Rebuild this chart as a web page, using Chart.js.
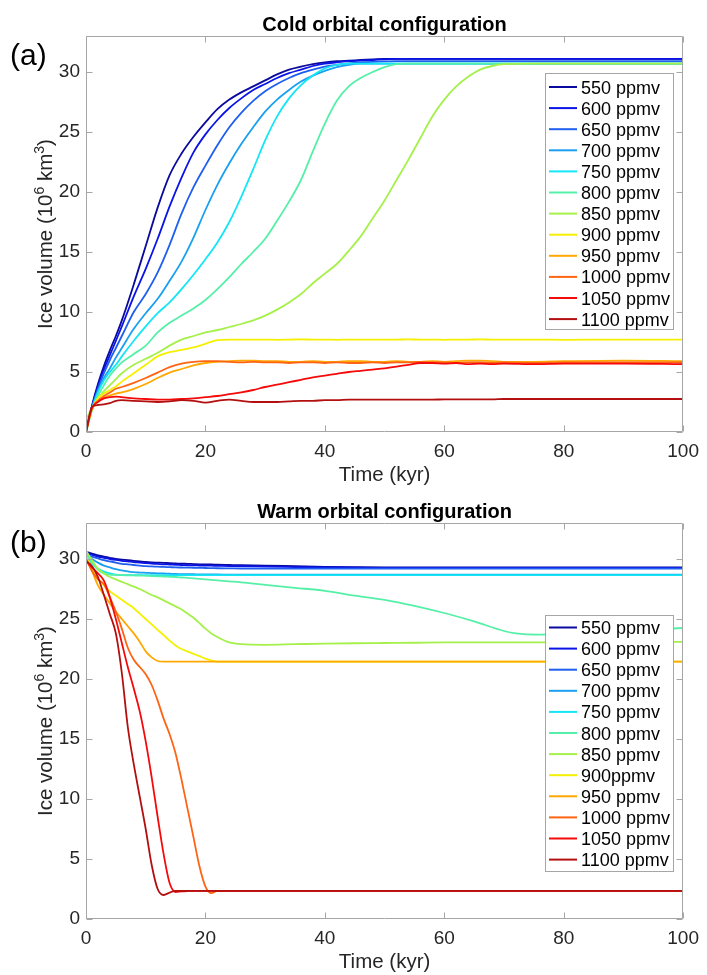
<!DOCTYPE html>
<html>
<head>
<meta charset="utf-8">
<script src="https://cdn.jsdelivr.net/npm/chart.js@4.4.1/dist/chart.umd.min.js"></script>
<style>
  html, body { margin: 0; padding: 0; background: #fff; }
  canvas { display: block; }
</style>
</head>
<body>
<canvas id="coldChart" width="707" height="487"></canvas>
<canvas id="warmChart" width="707" height="488"></canvas>
<script>
const FONT = "'Liberation Sans', Arial, Helvetica, sans-serif";

const xTicks = [0, 20, 40, 60, 80, 100];
const yTicks = [0, 5, 10, 15, 20, 25, 30];

const lineColors = ['#0a0a9e', '#0a14e6', '#1f5ff0', '#1aa0f0', '#14e6f5', '#55f0a8',
                    '#a5f04b', '#f5f000', '#ffa800', '#ff6414', '#f50a0a', '#b30f0f'];

const labelsCold = ['550 ppmv', '600 ppmv', '650 ppmv', '700 ppmv', '750 ppmv', '800 ppmv',
                    '850 ppmv', '900 ppmv', '950 ppmv', '1000 ppmv', '1050 ppmv', '1100 ppmv'];
const labelsWarm = ['550 ppmv', '600 ppmv', '650 ppmv', '700 ppmv', '750 ppmv', '800 ppmv',
                    '850 ppmv', '900ppmv', '950 ppmv', '1000 ppmv', '1050 ppmv', '1100 ppmv'];

// (a) cold orbital configuration
const timeCold = [0,1,2,3,4,5,6,8,10,12,14,16,18,20,22,24,26,28,30,32,34,36,38,40,42,44,46,48,50,52,54,56,58,60,62,64,66,68,70,75,80,90,100];
const cold550 = [0,2.2,4.0,5.5,6.8,8.0,9.3,12.3,15.5,18.7,21.4,23.2,24.6,25.8,26.9,27.7,28.3,28.8,29.3,29.8,30.2,30.45,30.65,30.8,30.9,30.95,31.0,31.05,31.1,31.1,31.1,31.1,31.1,31.1,31.1,31.1,31.1,31.1,31.1,31.1,31.1,31.1,31.1];
const cold600 = [0,2.1,3.8,5.2,6.4,7.6,8.8,11.3,13.6,16.1,18.8,21.2,23.3,24.8,26.0,27.0,27.8,28.5,29.0,29.5,29.9,30.2,30.5,30.7,30.8,30.9,30.95,31.0,31.05,31.1,31.1,31.1,31.1,31.1,31.1,31.1,31.1,31.1,31.1,31.1,31.1,31.1,31.1];
const cold650 = [0,2.0,3.6,4.9,6.0,7.0,8.0,10.0,11.5,13.3,15.6,18.2,20.4,22.2,23.9,25.4,26.6,27.6,28.4,29.0,29.5,29.9,30.2,30.45,30.6,30.72,30.8,30.85,30.88,30.9,30.9,30.9,30.9,30.9,30.9,30.9,30.9,30.9,30.9,30.9,30.9,30.9,30.9];
const cold700 = [0,2.0,3.4,4.5,5.3,6.2,7.0,8.6,9.9,11.1,12.6,14.2,16.2,18.5,20.6,22.4,24.0,25.4,26.7,27.7,28.5,29.2,29.7,30.1,30.4,30.6,30.7,30.7,30.7,30.7,30.7,30.7,30.7,30.7,30.7,30.7,30.7,30.7,30.7,30.7,30.7,30.7,30.7];
const cold750 = [0,1.9,3.3,4.3,5.0,5.6,6.3,7.6,8.8,9.9,10.8,11.9,13.1,14.4,15.8,17.5,19.6,21.9,24.3,26.3,27.8,28.9,29.7,30.3,30.6,30.7,30.7,30.7,30.7,30.7,30.7,30.7,30.7,30.7,30.7,30.7,30.7,30.7,30.7,30.7,30.7,30.7,30.7];
const cold800 = [0,1.8,3.0,3.9,4.7,5.3,5.8,6.5,7.2,8.3,9.1,9.7,10.3,11.0,11.9,12.9,14.0,15.0,16.1,17.6,19.2,21.0,23.4,25.7,27.6,28.8,29.5,30.0,30.4,30.65,30.7,30.7,30.7,30.7,30.7,30.7,30.7,30.7,30.7,30.7,30.7,30.7,30.7];
const cold850 = [1.0,2.0,2.8,3.4,3.9,4.4,4.9,5.6,6.1,6.6,7.2,7.7,8.0,8.3,8.5,8.75,9.0,9.3,9.7,10.2,10.8,11.5,12.4,13.2,14.0,15.1,16.3,17.8,19.3,21.0,22.7,24.5,26.3,27.7,28.8,29.6,30.2,30.5,30.65,30.7,30.7,30.7,30.7];
const cold900 = [0,1.9,2.8,3.2,3.5,3.8,4.2,4.9,5.6,6.3,6.65,6.85,7.05,7.35,7.65,7.7,7.7,7.7,7.7,7.68,7.7,7.72,7.7,7.7,7.68,7.7,7.7,7.7,7.7,7.7,7.72,7.7,7.7,7.68,7.7,7.7,7.72,7.7,7.7,7.7,7.68,7.7,7.7];
const cold950 = [0,1.9,2.6,2.9,3.05,3.2,3.3,3.6,4.0,4.5,4.95,5.25,5.55,5.75,5.85,5.9,5.95,5.95,5.9,5.9,5.85,5.85,5.9,5.85,5.85,5.9,5.9,5.85,5.85,5.9,5.85,5.85,5.9,5.85,5.9,5.95,5.95,5.9,5.85,5.85,5.9,5.95,5.9];
const cold1000 = [0,2.0,2.6,3.0,3.3,3.6,3.75,4.1,4.5,4.95,5.4,5.7,5.85,5.9,5.9,5.85,5.8,5.85,5.8,5.8,5.75,5.8,5.8,5.75,5.8,5.75,5.75,5.8,5.75,5.8,5.8,5.85,5.8,5.8,5.75,5.8,5.8,5.75,5.8,5.75,5.8,5.8,5.8];
const cold1050 = [0,2.0,2.5,2.8,2.9,2.95,2.9,2.8,2.75,2.7,2.7,2.75,2.8,2.9,3.0,3.15,3.3,3.5,3.75,3.95,4.15,4.35,4.55,4.7,4.85,5.0,5.1,5.2,5.3,5.45,5.6,5.75,5.75,5.7,5.75,5.65,5.7,5.65,5.7,5.65,5.7,5.7,5.65];
const cold1100 = [0,2.1,2.25,2.3,2.4,2.6,2.65,2.6,2.55,2.5,2.55,2.65,2.6,2.45,2.6,2.7,2.6,2.5,2.5,2.5,2.55,2.6,2.6,2.65,2.65,2.7,2.7,2.7,2.7,2.7,2.7,2.7,2.7,2.72,2.72,2.72,2.72,2.72,2.75,2.75,2.75,2.75,2.75];

// (b) warm orbital configuration
const timeWarm = [0,1,2,3,4,5,6,7,8,9,10,11,12,13,14,15,16,17,18,19,20,21,22,24,26,30,35,40,45,50,55,60,65,70,72,76,80,90,100];
const warm550 = [30.6,30.45,30.3,30.2,30.1,30.0,29.95,29.9,29.85,29.8,29.75,29.72,29.7,29.68,29.65,29.63,29.61,29.6,29.58,29.56,29.55,29.54,29.52,29.5,29.48,29.45,29.4,29.35,29.32,29.3,29.3,29.3,29.3,29.3,29.3,29.3,29.3,29.3,29.3];
const warm600 = [30.5,30.35,30.2,30.1,30.0,29.92,29.85,29.8,29.74,29.7,29.65,29.62,29.59,29.56,29.54,29.52,29.5,29.48,29.47,29.46,29.45,29.44,29.43,29.41,29.4,29.36,29.33,29.3,29.28,29.25,29.25,29.25,29.25,29.25,29.25,29.25,29.25,29.25,29.25];
const warm650 = [30.4,30.2,30.05,29.9,29.8,29.7,29.6,29.55,29.5,29.45,29.4,29.38,29.36,29.34,29.32,29.3,29.29,29.28,29.27,29.26,29.25,29.24,29.23,29.22,29.21,29.2,29.2,29.2,29.2,29.2,29.2,29.2,29.2,29.2,29.2,29.2,29.2,29.2,29.2];
const warm700 = [30.3,30.0,29.7,29.45,29.3,29.15,29.05,28.97,28.9,28.87,28.85,28.83,28.81,28.79,28.77,28.75,28.74,28.73,28.73,28.72,28.72,28.71,28.71,28.7,28.7,28.7,28.7,28.7,28.7,28.7,28.7,28.7,28.7,28.7,28.7,28.7,28.7,28.7,28.7];
const warm750 = [30.2,29.6,29.2,28.95,28.8,28.7,28.65,28.65,28.65,28.65,28.65,28.65,28.65,28.65,28.65,28.65,28.65,28.65,28.65,28.65,28.65,28.65,28.65,28.65,28.65,28.65,28.65,28.65,28.65,28.65,28.65,28.65,28.65,28.65,28.65,28.65,28.65,28.65,28.65];
const warm800 = [30.5,29.7,29.1,28.8,28.7,28.67,28.65,28.64,28.63,28.62,28.6,28.58,28.56,28.54,28.52,28.5,28.46,28.42,28.38,28.34,28.3,28.26,28.22,28.14,28.06,27.85,27.6,27.35,26.95,26.6,26.1,25.5,24.8,24.0,23.8,23.7,23.75,24.0,24.25];
const warm850 = [30.7,29.9,29.2,28.8,28.5,28.3,28.1,27.9,27.7,27.5,27.25,27.0,26.8,26.55,26.3,26.05,25.8,25.45,25.1,24.65,24.2,23.8,23.5,23.05,22.9,22.85,22.9,22.95,22.98,23.0,23.02,23.05,23.05,23.05,23.05,23.05,23.05,23.1,23.1];
const warm900 = [30.2,29.3,28.4,27.8,27.3,26.95,26.6,26.25,25.9,25.45,25.0,24.55,24.1,23.65,23.2,22.8,22.5,22.3,22.1,21.9,21.7,21.55,21.45,21.45,21.45,21.45,21.45,21.45,21.45,21.45,21.45,21.45,21.45,21.45,21.45,21.45,21.45,21.45,21.45];
const warm950 = [30.1,29.0,27.8,27.0,26.3,25.6,25.0,24.4,23.8,23.1,22.3,21.8,21.5,21.45,21.45,21.45,21.45,21.45,21.45,21.45,21.45,21.45,21.45,21.45,21.45,21.45,21.45,21.45,21.45,21.45,21.45,21.45,21.45,21.45,21.45,21.45,21.45,21.45,21.45];
const warm1000 = [30.0,29.0,28.3,27.9,26.8,25.6,24.2,22.6,21.6,21.0,20.4,19.5,18.2,16.7,15.4,13.8,11.6,9.2,6.8,4.4,2.7,2.15,2.35,2.35,2.35,2.35,2.35,2.35,2.35,2.35,2.35,2.35,2.35,2.35,2.35,2.35,2.35,2.35,2.35];
const warm1050 = [29.9,29.3,28.8,28.2,26.8,25.0,23.0,21.0,19.2,17.3,14.8,11.8,8.5,5.4,3.0,2.25,2.3,2.33,2.35,2.35,2.35,2.35,2.35,2.35,2.35,2.35,2.35,2.35,2.35,2.35,2.35,2.35,2.35,2.35,2.35,2.35,2.35,2.35,2.35];
const warm1100 = [29.8,29.4,28.5,27.0,25.4,23.8,20.5,16.0,12.9,10.2,7.5,4.5,2.5,2.0,2.2,2.35,2.35,2.35,2.35,2.35,2.35,2.35,2.35,2.35,2.35,2.35,2.35,2.35,2.35,2.35,2.35,2.35,2.35,2.35,2.35,2.35,2.35,2.35,2.35];

const coldSeries = [cold550, cold600, cold650, cold700, cold750, cold800, cold850, cold900, cold950, cold1000, cold1050, cold1100];
const warmSeries = [warm550, warm600, warm650, warm700, warm750, warm800, warm850, warm900, warm950, warm1000, warm1050, warm1100];

function buildDatasets(times, series, labels) {
  return series.map((vals, i) => ({
    label: labels[i],
    data: vals.map((v, k) => ({ x: times[k], y: v })),
    borderColor: lineColors[i],
    borderWidth: 1.8,
    pointRadius: 0,
    fill: false,
    cubicInterpolationMode: 'monotone',
    order: series.length - i
  }));
}

// frame, inward ticks, titles and boxed legend drawn on top of the lines
const decorPlugin = {
  id: 'decor',
  afterDatasetsDraw(chart, args, o) {
    const ctx = chart.ctx;
    const a = chart.chartArea;
    const xs = chart.scales.x, ys = chart.scales.y;
    const midX = (a.left + a.right) / 2, midY = (a.top + a.bottom) / 2;
    const L = Math.round(a.left) + 0.5, R = Math.round(a.right) - 0.5;
    const T = Math.round(a.top) + 0.5, B = Math.round(a.bottom) - 0.5;
    ctx.save();

    ctx.strokeStyle = '#a6a6a6';
    ctx.lineWidth = 1;
    ctx.beginPath();
    ctx.rect(L, T, R - L, B - T);
    xTicks.forEach(v => {
      const px = Math.round(xs.getPixelForValue(v)) + 0.5;
      ctx.moveTo(px, B); ctx.lineTo(px, B - 6);
      ctx.moveTo(px, T); ctx.lineTo(px, T + 6);
    });
    yTicks.forEach(v => {
      const py = Math.round(ys.getPixelForValue(v)) + 0.5;
      ctx.moveTo(L, py); ctx.lineTo(L + 6, py);
      ctx.moveTo(R, py); ctx.lineTo(R - 6, py);
    });
    ctx.stroke();

    ctx.fillStyle = '#000';
    ctx.textBaseline = 'alphabetic';
    ctx.textAlign = 'center';
    ctx.font = 'bold 20px ' + FONT;
    ctx.fillText(o.title, midX, 31);

    ctx.textAlign = 'left';
    ctx.font = '30px ' + FONT;
    ctx.fillText(o.tag, 10, 65);

    ctx.fillStyle = '#262626';
    ctx.textAlign = 'center';
    ctx.font = '20.5px ' + FONT;
    ctx.fillText('Time (kyr)', midX, 481);

    // y title with superscripts
    const parts = [['Ice volume (10', 20.5, 0], ['6', 14, -8], [' km', 20.5, 0], ['3', 14, -8], [')', 20.5, 0]];
    let total = 0;
    parts.forEach(p => { ctx.font = p[1] + 'px ' + FONT; total += ctx.measureText(p[0]).width; });
    ctx.translate(52, midY);
    ctx.rotate(-Math.PI / 2);
    ctx.textAlign = 'left';
    let u = -total / 2;
    parts.forEach(p => {
      ctx.font = p[1] + 'px ' + FONT;
      ctx.fillText(p[0], u, p[2]);
      u += ctx.measureText(p[0]).width;
    });
    ctx.setTransform(1, 0, 0, 1, 0, 0);

    const lg = o.legend;
    ctx.fillStyle = '#fff';
    ctx.fillRect(lg.left, lg.top, lg.right - lg.left, lg.bottom - lg.top);
    ctx.strokeStyle = '#a6a6a6';
    ctx.strokeRect(lg.left + 0.5, lg.top + 0.5, lg.right - lg.left, lg.bottom - lg.top);
    ctx.font = '18px ' + FONT;
    ctx.textAlign = 'left';
    o.labels.forEach((txt, i) => {
      const yy = lg.firstRow + i * lg.rowGap;
      ctx.strokeStyle = lineColors[i];
      ctx.lineWidth = 2;
      ctx.beginPath();
      ctx.moveTo(549, yy); ctx.lineTo(577, yy);
      ctx.stroke();
      ctx.fillStyle = '#000';
      ctx.fillText(txt, 581, yy + 6.5);
    });
    ctx.restore();
  }
};

function makeChart(id, times, series, labels, title, tag, legend, padBottom) {
  new Chart(document.getElementById(id), {
    type: 'line',
    data: { datasets: buildDatasets(times, series, labels) },
    options: {
      responsive: false,
      animation: false,
      devicePixelRatio: 1,
      layout: { padding: { left: 26, right: 18, top: 36, bottom: padBottom } },
      plugins: {
        legend: { display: false },
        tooltip: { enabled: false },
        decor: { title: title, tag: tag, labels: labels, legend: legend }
      },
      scales: {
        x: {
          type: 'linear', min: 0, max: 100,
          afterBuildTicks: s => { s.ticks = xTicks.map(v => ({ value: v })); },
          afterFit: s => { s.height = 40; },
          grid: { display: false, drawTicks: false }, border: { display: false },
          ticks: { font: { family: FONT, size: 19 }, color: '#262626', padding: 8, maxRotation: 0, autoSkip: false }
        },
        y: {
          type: 'linear', min: 0, max: 33,
          afterBuildTicks: s => { s.ticks = yTicks.map(v => ({ value: v })); },
          afterFit: s => { s.width = 60; },
          grid: { display: false, drawTicks: false }, border: { display: false },
          ticks: { font: { family: FONT, size: 19 }, color: '#262626', padding: 6, autoSkip: false }
        }
      }
    },
    plugins: [decorPlugin]
  });
}

makeChart('coldChart', timeCold, coldSeries, labelsCold, 'Cold orbital configuration', '(a)',
  { left: 545, right: 673, top: 73, bottom: 329, firstRow: 87, rowGap: 21.1 }, 15);
makeChart('warmChart', timeWarm, warmSeries, labelsWarm, 'Warm orbital configuration', '(b)',
  { left: 545, right: 673, top: 128, bottom: 384, firstRow: 140.5, rowGap: 21.1 }, 16);
</script>
</body>
</html>
